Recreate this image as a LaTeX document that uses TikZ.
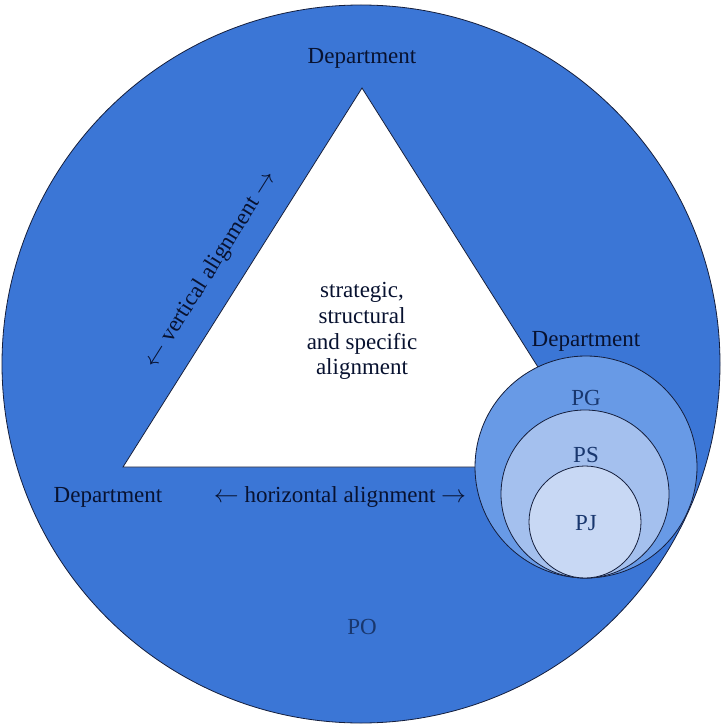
\documentclass[tikz,border=0pt]{standalone}
\usepackage{fontspec}
\setmainfont{Liberation Serif}
\definecolor{poblue}{RGB}{59,118,214}
\definecolor{pgblue}{RGB}{104,154,230}
\definecolor{psblue}{RGB}{164,192,238}
\definecolor{pjblue}{RGB}{200,216,244}
\definecolor{edge}{RGB}{20,30,60}
\definecolor{darktext}{RGB}{8,18,48}
\definecolor{lbltext}{RGB}{25,55,110}
\newcommand{\larr}{\ensuremath{\leftarrow}}
\newcommand{\rarr}{\ensuremath{\rightarrow}}
\tikzset{
  disc/.style={circle, draw=edge, line width=0.8pt, inner sep=0pt},
  lbl/.style={font=\fontsize{23}{26}\selectfont, text=darktext, inner sep=0pt},
  plbl/.style={font=\fontsize{23}{26}\selectfont, text=lbltext, inner sep=0pt},
}
\begin{document}
\begin{tikzpicture}[x=1pt,y=-1pt]
\useasboundingbox (0,0) rectangle (721,727);
\node[disc, fill=poblue, minimum size=718pt] (po) at (361,364) {};
\coordinate (apex) at (362,88);
\coordinate (bl) at (123,467);
\coordinate (br) at (601,467);
\draw[fill=white, draw=edge, line width=0.8pt, line join=miter] (apex) -- (bl) -- (br) -- cycle;
\node[disc, fill=pgblue, minimum size=222pt] (pg) at (586,467) {};
\node[disc, fill=psblue, minimum size=168pt] (ps) at (585,494) {};
\node[disc, fill=pjblue, minimum size=112pt] (pj) at (585,522) {};
\node[lbl] (dtop) at (362,58) {Department};
\node[lbl] (dleft) at (108,497) {Department};
\node[lbl] (dright) at (586,341) {Department};
\node[lbl, align=center, font=\fontsize{23}{25.8}\selectfont] (center) at (362,331) {strategic,\\structural\\and specific\\alignment};
\node[lbl] (horiz) at (340,497) {\larr{} horizontal alignment \rarr};
\node[lbl, rotate=57.8] (vert) at (211,270) {\larr{} vertical alignment \rarr};
\node[plbl] (pglbl) at (586,398) {PG};
\node[plbl] (pslbl) at (586,455) {PS};
\node[plbl] (pjlbl) at (586,523) {PJ};
\node[plbl] (polbl) at (362,627) {PO};
\end{tikzpicture}
\end{document}
